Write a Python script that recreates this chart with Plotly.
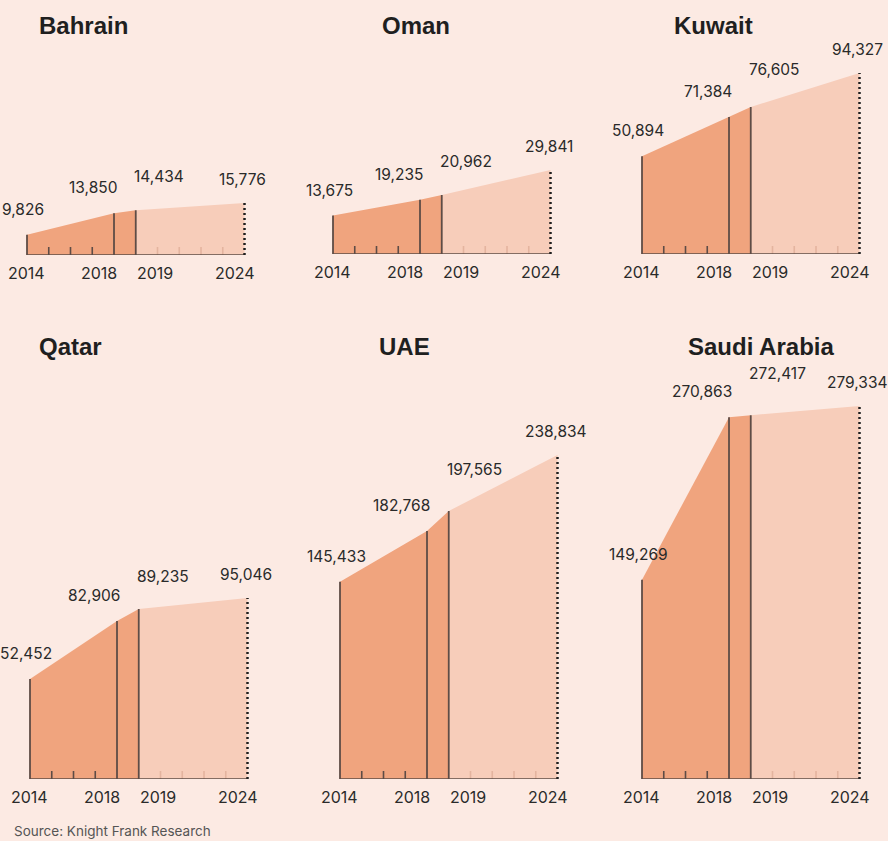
import plotly.graph_objects as go

# ---------------- data ----------------
years = [2014, 2018, 2019, 2024]
year_labels = ["2014", "2018", "2019", "2024"]
countries = ["Bahrain", "Oman", "Kuwait", "Qatar", "UAE", "Saudi Arabia"]
bahrain = [9826, 13850, 14434, 15776]
oman = [13675, 19235, 20962, 29841]
kuwait = [50894, 71384, 76605, 94327]
qatar = [52452, 82906, 89235, 95046]
uae = [145433, 182768, 197565, 238834]
saudi = [149269, 270863, 272417, 279334]
series = [bahrain, oman, kuwait, qatar, uae, saudi]
source_text = "Source: Knight Frank Research"

# ---------------- layout / style ----------------
W, H = 888, 841
BG = "#FCEAE3"
DARK = "#F0A47E"
LIGHT = "#F7CDBA"
LINE = "#5E4C46"
LTICK = "#E4B49F"
TXT = "#2A2A2A"
NUMFONT = "Inter"

x2014_px = [27, 333, 642, 30, 340, 642]
base_px = [255, 254, 254, 779, 779, 779]
top_px = [40, 40, 40, 380, 380, 380]
h2024_px = [52, 84, 181, 181, 324, 373]
y_floor = [6000, 0, 0, 0, 0, 0]
title_pos = [(37, 25), (380, 25), (672, 25), (37, 346), (377, 346), (686, 346)]
shift2019 = [22, 22, 26, 21, 30, 30]
px_year = 21.75

fig = go.Figure()
annotations = []

for i, (name, vals) in enumerate(zip(countries, series)):
    n = i + 1
    xa = "x" if n == 1 else f"x{n}"
    ya = "y" if n == 1 else f"y{n}"
    x0 = x2014_px[i] - 0.5 * px_year
    x1 = x2014_px[i] + 10.5 * px_year
    base, top = base_px[i], top_px[i]
    hpx = base - top
    ymin = y_floor[i]
    ymax = ymin + (vals[3] - ymin) * hpx / h2024_px[i]
    unit = (ymax - ymin) / hpx  # data units per pixel

    fig.update_layout(**{
        ("xaxis" if n == 1 else f"xaxis{n}"): dict(
            domain=[x0 / W, x1 / W], range=[2013.5, 2024.5], visible=False,
            anchor=ya, fixedrange=True),
        ("yaxis" if n == 1 else f"yaxis{n}"): dict(
            domain=[1 - base / H, 1 - top / H], range=[ymin, ymax], visible=False,
            anchor=xa, fixedrange=True),
    })

    common = dict(xaxis=xa, yaxis=ya, hoverinfo="skip", showlegend=False)
    # filled areas
    fig.add_trace(go.Scatter(x=years[:3], y=vals[:3], mode="lines", fill="tozeroy",
                             fillcolor=DARK, line=dict(width=0, color=DARK), **common))
    fig.add_trace(go.Scatter(x=years[2:], y=vals[2:], mode="lines", fill="tozeroy",
                             fillcolor=LIGHT, line=dict(width=0, color=LIGHT), **common))
    # minor ticks
    th = 8 * unit
    tx, ty = [], []
    for yr in range(years[0] + 1, years[1]):
        tx += [yr, yr, None]; ty += [ymin, ymin + th, None]
    fig.add_trace(go.Scatter(x=tx, y=ty, mode="lines", line=dict(width=1.6, color=LINE), **common))
    tx, ty = [], []
    for yr in range(years[2] + 1, years[3]):
        tx += [yr, yr, None]; ty += [ymin, ymin + th, None]
    fig.add_trace(go.Scatter(x=tx, y=ty, mode="lines", line=dict(width=1.6, color=LTICK), **common))
    # baseline
    fig.add_trace(go.Scatter(x=[years[0], years[3]], y=[ymin, ymin], mode="lines",
                             line=dict(width=1.6, color=LINE), **common))
    # vertical lines
    vx, vy = [], []
    for yr, v in zip(years[:3], vals[:3]):
        vx += [yr, yr, None]; vy += [ymin, v, None]
    fig.add_trace(go.Scatter(x=vx, y=vy, mode="lines", line=dict(width=1.8, color=LINE), **common))
    # dotted end line
    fig.add_trace(go.Scatter(x=[years[3], years[3]], y=[ymin, vals[3]], mode="lines",
                             line=dict(width=2.5, color="#1E1E1E", dash="2px,3px"), **common))

    # value labels
    specs = [("center", -4, 14), ("right", 5, 14), ("left", -4, shift2019[i]), ("center", -2, 12)]
    for (anc, xs, ys), yr, v in zip(specs, years, vals):
        annotations.append(dict(x=yr, y=v, xref=xa, yref=ya, text=f"{v:,}", showarrow=False,
                                xanchor=anc, yanchor="bottom", xshift=xs, yshift=ys,
                                font=dict(family=NUMFONT, size=15.5, color=TXT)))
    # year labels
    yspecs = [("center", -1), ("right", 5), ("left", -1), ("center", -10)]
    for (anc, xs), yr, lab in zip(yspecs, years, year_labels):
        annotations.append(dict(x=yr, y=1 - (base + 18) / H, xref=xa, yref="paper", text=lab,
                                showarrow=False, xanchor=anc, yanchor="middle", xshift=xs,
                                font=dict(family=NUMFONT, size=16, color=TXT)))
    # title
    tx_, ty_ = title_pos[i]
    annotations.append(dict(x=tx_ / W, y=1 - ty_ / H, xref="paper", yref="paper",
                            text=f"<b>{name}</b>", showarrow=False, xanchor="left",
                            yanchor="middle",
                            font=dict(family="Liberation Sans", size=24, color="#1F1F1F")))

annotations.append(dict(x=12 / W, y=1 - 831 / H, xref="paper", yref="paper", text=source_text,
                        showarrow=False, xanchor="left", yanchor="middle",
                        font=dict(family=NUMFONT, size=13.5, color="#555555")))

fig.update_layout(width=W, height=H, margin=dict(l=0, r=0, t=0, b=0),
                  paper_bgcolor=BG, plot_bgcolor="rgba(0,0,0,0)",
                  annotations=annotations, showlegend=False)

fig.write_html("out.html", config={"displayModeBar": False},
               post_script="document.body.style.margin='0';document.body.style.background='%s';"
                           "document.body.style.overflow='hidden';" % BG)
